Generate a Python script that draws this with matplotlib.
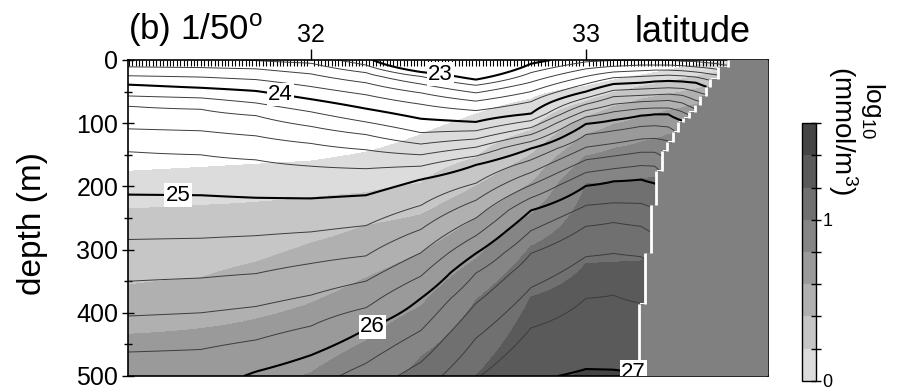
import numpy as np
import matplotlib
matplotlib.use("Agg")
import matplotlib.pyplot as plt
from matplotlib.ticker import MultipleLocator, FixedLocator

plt.rcParams['font.family'] = ['Liberation Sans', 'DejaVu Sans']
plt.rcParams['mathtext.fontset'] = 'custom'
plt.rcParams['mathtext.rm'] = 'Liberation Sans'
plt.rcParams['mathtext.it'] = 'Liberation Sans:italic'
plt.rcParams['mathtext.sf'] = 'Liberation Sans'

# sigma-theta contour levels (every 0.2, bold every 1.0)
sig_levels = np.round(np.arange(23.0, 27.01, 0.2), 1)
bold_levels = [23, 24, 25, 26, 27]

# station latitudes and depth (m) of each isopycnal at that station
sig_lat = [31.34, 31.6, 31.8, 32.0, 32.2, 32.4, 32.6, 32.8, 33.0, 33.1, 33.2,
           33.25, 33.3, 33.35, 33.4, 33.45, 33.5]
sig_depth = [
    [-38, -22, -6, 11, 25, 39, 57, 73, 109, 145, 213, 284, 350, 405, 462, 540, 620, 700, 780, 860, 940],
    [-34, -18, -3, 12, 27, 44, 60, 78, 112, 150, 214, 282, 345, 400, 458, 525, 600, 680, 760, 840, 920],
    [-28, -13, 1, 14, 31, 49, 68, 88, 120, 158, 218, 278, 338, 390, 443, 493, 560, 620, 680, 740, 800],
    [-18, -6, 5, 22, 42, 62, 82, 105, 132, 168, 219, 272, 322, 372, 421, 467, 525, 585, 645, 705, 780],
    [-5, 8, 20, 36, 55, 77, 98, 118, 142, 172, 214, 262, 310, 350, 392, 426, 480, 530, 580, 630, 700],
    [19, 26, 38, 52, 70, 93, 115, 133, 150, 168, 189, 230, 268, 305, 342, 377, 428, 478, 528, 575, 640],
    [31, 40, 52, 65, 80, 98, 112, 125, 138, 152, 166, 195, 222, 250, 278, 306, 337, 385, 440, 505, 570],
    [6, 20, 35, 50, 66, 85, 96, 107, 118, 129, 140, 158, 178, 198, 218, 238, 270, 306, 360, 424, 508],
    [-10, 3, 14, 26, 38, 50, 60, 70, 80, 90, 101, 118, 138, 158, 178, 199, 230, 263, 311, 377, 489],
    [-14, 1, 10, 19, 28, 38, 48, 58, 70, 82, 95, 112, 132, 152, 172, 192, 226, 257, 306, 372, 490],
    [-16, 0, 8, 17, 26, 36, 46, 56, 66, 77, 88, 105, 125, 146, 167, 189, 227, 263, 311, 385, 495],
    [-16, 0, 8, 16, 25, 34, 45, 55, 65, 76, 86, 104, 124, 146, 168, 195, 235, 275, 325, 400, 500],
    [-16, 1, 8, 16, 24, 33, 44, 54, 64, 76, 86, 106, 128, 160, 190, 215, 250, 290, 340, 420, 520],
    [-15, 2, 9, 17, 25, 34, 45, 56, 68, 82, 96, 120, 150, 180, 210, 240, 270, 310, 360, 440, 540],
    [-14, 3, 11, 19, 27, 36, 50, 64, 78, 92, 110, 130, 155, 185, 215, 245, 280, 320, 370, 450, 550],
    [-12, 5, 13, 22, 32, 44, 56, 70, 84, 100, 120, 140, 165, 195, 225, 255, 290, 330, 380, 460, 560],
    [-10, 8, 16, 25, 36, 48, 60, 75, 90, 105, 125, 145, 170, 200, 230, 260, 295, 335, 385, 465, 565],
]

# log10 concentration band edges and their depth (m) at each station
conc_levels = [0.0, 0.2, 0.4, 0.6, 0.8, 1.0, 1.2, 1.4]
conc_lat = [31.34, 31.6, 31.8, 32.0, 32.2, 32.4, 32.6, 32.8, 33.0, 33.1, 33.2, 33.3, 33.4, 33.5]
conc_depth = [
    [176, 235, 356, 434, 560, 650, 750, 850],
    [170, 230, 345, 425, 545, 640, 740, 840],
    [165, 225, 320, 410, 525, 625, 725, 825],
    [160, 218, 290, 385, 495, 600, 700, 800],
    [146, 210, 262, 345, 445, 540, 660, 760],
    [118, 195, 245, 305, 390, 470, 600, 700],
    [86, 155, 200, 250, 315, 380, 500, 620],
    [62, 112, 150, 195, 245, 295, 375, 540],
    [42, 66, 90, 118, 152, 196, 322, 488],
    [32, 52, 74, 102, 140, 192, 320, 490],
    [24, 42, 62, 90, 130, 188, 318, 495],
    [16, 34, 54, 80, 118, 180, 300, 480],
    [8, 26, 46, 70, 105, 170, 290, 470],
    [2, 18, 36, 58, 92, 160, 280, 460],
]
conc_bounds = [0.0, 0.2, 0.4, 0.6, 0.8, 1.0, 1.2, 1.4, 1.6]
conc_colors = ['#dcdcdc', '#c6c6c6', '#b0b0b0', '#9a9a9a',
               '#858585', '#707070', '#5a5a5a', '#454545']

# stair-step continental slope: wall latitude of each model step and its depth range
shelf_lat = [33.516, 33.480, 33.451, 33.436, 33.415, 33.396, 33.375, 33.353,
             33.335, 33.316, 33.295, 33.276, 33.255, 33.236, 33.215, 33.193]
shelf_top = [0, 11, 30, 43, 57, 72, 82, 92, 98, 114, 129, 144, 176, 229, 305, 386]
shelf_bot = [11, 30, 43, 57, 72, 82, 92, 98, 114, 129, 144, 176, 229, 305, 386, 500]

lat_min, lat_max = 31.335, 33.662
lat = np.linspace(lat_min, lat_max, 700)
z = np.arange(0, 501, 2.0)


def section(col_lat, col_depth, levels, step):
    # profile per station: linear between the given contour depths,
    # continued above/below with the gradient of the end intervals
    prof = []
    for d in col_depth:
        d = np.asarray(d, float)
        top = d[0] - 5 * (d[1] - d[0])
        bot = d[-1] + 5 * (d[-1] - d[-2])
        zz = np.concatenate([[top], d, [bot]])
        vv = np.concatenate([[levels[0] - 5 * step], levels, [levels[-1] + 5 * step]])
        prof.append(np.interp(z, zz, vv, left=vv[0], right=vv[-1]))
    prof = np.array(prof)
    out = np.empty((len(z), len(lat)))
    for k in range(len(z)):
        out[k] = np.interp(lat, col_lat, prof[:, k])
    return out


sig = section(sig_lat, sig_depth, sig_levels, 0.2)
conc = section(conc_lat, conc_depth, conc_levels, 0.2)
conc = np.minimum(conc, 1.59)

# blank everything on the land side of the step wall
idx = np.clip(np.searchsorted(shelf_bot, z, side='right'), 0, len(shelf_lat) - 1)
wall = np.array(shelf_lat)[idx]
land = lat[None, :] >= wall[:, None]
sig = np.ma.masked_where(land, sig)
conc = np.ma.masked_where(land, conc)

fig = plt.figure(figsize=(8.99, 3.9), dpi=100)
ax = fig.add_axes([0.1424, 0.0359, 0.7119, 0.8103])
cax = fig.add_axes([0.8921, 0.0231, 0.0156, 0.6615])

cf = ax.contourf(lat, z, conc, levels=conc_bounds, colors=conc_colors, zorder=1)

thin = [l for l in sig_levels if abs(l - round(l)) > 0.05]
ax.contour(lat, z, sig, levels=thin, colors='#3c3c3c', linewidths=0.7, zorder=2)
cs = ax.contour(lat, z, sig, levels=bold_levels, colors='k', linewidths=1.5, zorder=2)

# land
px, py = [lat_max, shelf_lat[0]], [0, 0]
for la, t, b in zip(shelf_lat, shelf_top, shelf_bot):
    px += [la, la]
    py += [t, b]
px += [lat_max]
py += [500]
ax.fill(px, py, color='#808080', lw=0, zorder=3)
ax.vlines(shelf_lat, shelf_top, shelf_bot, colors='white', lw=2, zorder=3)

label_pos = [(32.469, 27), (31.891, 50), (31.516, 213), (32.222, 421), (33.175, 483)]
txt = ax.clabel(cs, fmt='%d', fontsize=16, inline=False, manual=label_pos, zorder=5)
for t in txt:
    t.set_rotation(0)
    t.set_bbox(dict(facecolor='white', edgecolor='none', pad=1))
    t.set_zorder(5)

ax.set_xlim(lat_min, lat_max)
ax.set_ylim(500, 0)
ax.xaxis.tick_top()
ax.set_xticks([32, 33])
ax.xaxis.set_minor_locator(MultipleLocator(0.0125))
ax.tick_params(axis='x', which='major', direction='out', length=8, width=1.0,
               labelsize=18, pad=1, top=True, bottom=False)
ax.tick_params(axis='x', which='minor', direction='in', length=4, width=0.8,
               top=True, bottom=False)
ax.set_yticks(range(0, 501, 100))
ax.yaxis.set_minor_locator(MultipleLocator(50))
ax.tick_params(axis='y', which='major', direction='inout', length=8, width=1.0,
               labelsize=18, pad=3)
ax.tick_params(axis='y', which='minor', direction='inout', length=6, width=1.0)
for s in ax.spines.values():
    s.set_linewidth(1.2)

cb = fig.colorbar(cf, cax=cax, ticks=[0, 1])
cb.ax.set_yticklabels(['0', '1'])
cb.ax.yaxis.set_minor_locator(FixedLocator(np.arange(0, 1.61, 0.2)))
cb.ax.tick_params(which='major', direction='inout', length=7, width=1.0, labelsize=13, pad=1)
cb.ax.tick_params(which='minor', direction='inout', length=7, width=1.0)
cb.outline.set_linewidth(1.0)

fig.text(0.1424, 0.897, r'(b) 1/50$^{\rm o}$', fontsize=25, ha='left', va='baseline')
fig.text(0.7063, 0.893, 'latitude', fontsize=26, ha='left', va='baseline')
fig.text(0.0367, 0.428, 'depth (m)', fontsize=24, rotation=90, ha='center', va='center')
fig.text(0.971, 0.715, r'log$_{10}$', fontsize=19, rotation=270, ha='center', va='center')
fig.text(0.938, 0.664, r'(mmol/m$^3$)', fontsize=20, rotation=270, ha='center', va='center')

fig.savefig('out.png', dpi=100)
